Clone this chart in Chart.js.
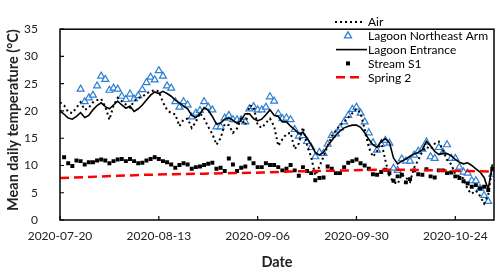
<!DOCTYPE html>
<html>
<head>
<meta charset="utf-8">
<script src="https://cdn.jsdelivr.net/npm/chart.js@4"></script>
<style>
html, body { margin: 0; padding: 0; background: #fff; }
</style>
</head>
<body>
<canvas id="chart" width="500" height="271"></canvas>
<script>
// days since 2020-07-20
const days = Array.from({ length: 106 }, (_, i) => i);
const dateTicks = ['2020-07-20', '2020-08-13', '2020-09-06', '2020-09-30', '2020-10-24'];
const seriesNames = ['Air', 'Lagoon Northeast Arm', 'Lagoon Entrance', 'Stream S1', 'Spring 2'];

const air = [21.6, 21.0, 19.8, 19.6, 20.6, 21.6, 20.2, 20.6, 21.6, 22.0,
  22.2, 20.8, 18.4, 21.0, 22.4, 21.8, 21.2, 20.6, 21.8, 22.4,
  22.6, 23.2, 23.6, 23.8, 23.6, 21.6, 20.2, 19.6, 19.4, 17.2,
  18.4, 18.6, 16.9, 18.0, 19.6, 18.6, 17.1, 15.8, 13.8, 15.0,
  17.6, 17.4, 16.0, 16.8, 18.6, 17.4, 21.0, 20.8, 17.4, 16.9,
  17.8, 18.6, 17.2, 13.6, 14.8, 15.8, 16.0, 13.0, 14.0, 17.0,
  13.8, 11.5, 8.2, 9.8, 11.6, 13.6, 15.4, 16.4, 17.4, 18.0,
  18.8, 19.6, 20.4, 19.6, 16.6, 13.3, 11.6, 12.6, 14.4, 11.0,
  8.0, 7.0, 6.6, 8.4, 7.8, 7.0, 9.6, 11.0, 12.6, 13.4,
  13.0, 14.0, 14.4, 12.8, 11.0, 10.2, 8.4, 8.0, 7.6, 5.6,
  4.8, 5.4, 4.4, 3.0, 4.6, 9.8];

const lagoonNE = [null, null, null, null, null, 24.0, 21.7, 22.4, 22.9, 24.6,
  26.4, 25.8, 23.8, 24.2, 24.0, 22.7, 22.1, 23.1, 22.2, 22.8,
  23.9, 25.2, 26.2, 25.7, 27.4, 26.4, 24.6, 24.2, 21.7, 20.7,
  21.7, 21.1, 18.9, 19.6, 20.1, 21.7, 20.7, 20.2, 17.1, 17.1,
  18.7, 19.2, 18.4, 18.4, 18.4, 18.0, 20.4, 20.8, 20.2, 20.2,
  20.7, 22.6, 21.8, 19.5, 18.6, 18.7, 18.4, 16.6, 15.4, 15.5,
  14.4, 13.3, 11.6, 12.4, 12.2, 13.9, 15.5, 15.8, 16.9, 18.0,
  19.2, 20.3, 20.7, 19.6, 18.0, 16.0, 14.2, 12.8, 13.9, 14.6,
  14.1, 9.5, 9.1, 11.2, 10.8, 10.8, 11.9, 12.6, 13.0, 14.3,
  11.6, 11.3, 13.3, 12.4, 13.8, 11.3, 11.3, 9.7, 8.8, 8.6,
  7.2, 7.2, 5.8, 4.5, 3.4, 8.4];

const lagoonEntrance = [20.0, 19.4, 18.7, 18.5, 19.0, 19.7, 18.8, 19.2, 20.2, 21.0,
  21.5, 20.8, 20.4, 21.1, 21.8, 21.1, 20.5, 20.9, 19.9, 20.4,
  21.1, 22.0, 22.9, 23.5, 23.2, 23.6, 23.2, 22.7, 22.0, 21.5,
  20.9, 20.4, 19.2, 18.8, 19.5, 20.6, 20.1, 19.0, 17.6, 17.8,
  18.5, 18.7, 18.3, 17.7, 18.3, 19.5, 19.5, 18.6, 18.2, 18.5,
  19.3, 20.2, 19.2, 19.0, 18.0, 18.0, 17.2, 16.6, 15.8, 16.1,
  15.0, 13.8, 12.4, 11.9, 12.4, 13.6, 14.6, 15.6, 16.3, 16.9,
  17.2, 17.4, 17.4, 17.0, 16.0, 14.8, 13.8, 13.3, 14.4, 14.9,
  14.2, 11.4, 10.3, 10.8, 11.2, 11.7, 12.1, 12.4, 12.9, 14.4,
  13.6, 12.6, 12.0, 12.3, 12.2, 11.8, 11.1, 10.6, 10.3, 10.5,
  10.0, 9.4, 8.8, 7.8, 5.6, 10.2];

const streamS1 = [null, 11.5, 10.4, 9.9, 10.9, 10.8, 10.2, 10.6, 10.6, 10.9,
  11.1, 10.9, 10.4, 10.8, 11.1, 11.2, 10.8, 11.2, 10.8, 10.4,
  10.5, 10.9, 11.2, 11.5, 11.2, 10.8, 10.6, 10.2, 9.6, 10.1,
  10.4, 10.2, 9.4, 9.7, 9.8, 10.1, 10.3, 10.5, 9.4, 9.6,
  9.0, 11.3, 10.2, 9.0, 9.6, 9.8, 11.3, 10.4, 9.7, 9.7,
  10.4, 10.1, 10.1, 9.7, 9.1, 9.4, 10.1, 9.1, 8.1, 9.7,
  9.0, 8.6, 7.3, 7.7, 7.8, 9.8, 9.4, 8.6, 8.6, 9.7,
  10.5, 10.8, 11.1, 10.4, 10.0, 9.4, 8.4, 8.3, 8.8, 9.2,
  8.6, 7.2, 8.0, 8.3, 6.9, 7.5, 9.1, 8.4, 8.3, 9.3,
  8.0, 7.8, 9.1, 9.1, 8.6, 8.7, 8.0, 7.7, 7.1, 6.7,
  6.1, 6.4, 5.8, 6.1, 5.5, 9.4];

const springDays = [0, 7, 14, 21, 28, 35, 42, 49, 56, 63, 70, 77, 84, 91, 98, 105];
const spring2 = [7.7, 7.9, 8.1, 8.3, 8.4, 8.5, 8.6, 8.7, 8.9, 9.0, 9.1, 9.2, 9.2, 9.1, 9.0, 8.9];

const FONT = 'Lato, "Open Sans", sans-serif';
const BLUE = '#2e7fd2';

// frame around the plot, with inward tick marks
const framePlugin = {
  id: 'frame',
  afterDatasetsDraw(chart) {
    const { ctx, chartArea: a, scales } = chart;
    ctx.save();
    ctx.strokeStyle = '#000';
    ctx.lineWidth = 1.5;
    ctx.strokeRect(a.left, a.top, a.right - a.left, a.bottom - a.top);
    ctx.lineWidth = 1.2;
    ctx.beginPath();
    scales.x.ticks.forEach(t => {
      const px = scales.x.getPixelForValue(t.value);
      ctx.moveTo(px, a.bottom);
      ctx.lineTo(px, a.bottom - 4);
    });
    scales.y.ticks.forEach(t => {
      const py = scales.y.getPixelForValue(t.value);
      ctx.moveTo(a.left, py);
      ctx.lineTo(a.left + 4, py);
    });
    ctx.stroke();
    ctx.restore();
  }
};

// legend drawn inside the plot, top right
const legendPlugin = {
  id: 'insideLegend',
  afterDraw(chart) {
    const ctx = chart.ctx;
    const rows = [22, 35.8, 49.6, 63.4, 77.2];
    const tx = 368, cx = 348;
    ctx.save();
    ctx.font = '12px ' + FONT;
    ctx.fillStyle = '#000';
    ctx.textBaseline = 'middle';
    seriesNames.forEach((n, i) => ctx.fillText(n, tx, rows[i] + 0.5));

    // Air
    ctx.strokeStyle = '#000';
    ctx.lineWidth = 2;
    ctx.setLineDash([2, 3]);
    ctx.beginPath();
    ctx.moveTo(335, rows[0]); ctx.lineTo(363, rows[0]);
    ctx.stroke();
    ctx.setLineDash([]);

    // Lagoon Northeast Arm
    const r = 4;
    ctx.strokeStyle = BLUE;
    ctx.fillStyle = '#fff';
    ctx.lineWidth = 1.3;
    ctx.beginPath();
    ctx.moveTo(cx, rows[1] - r);
    ctx.lineTo(cx + r * 0.87, rows[1] + r * 0.5);
    ctx.lineTo(cx - r * 0.87, rows[1] + r * 0.5);
    ctx.closePath();
    ctx.fill(); ctx.stroke();

    // Lagoon Entrance
    ctx.strokeStyle = '#000';
    ctx.lineWidth = 1.6;
    ctx.beginPath();
    ctx.moveTo(336, rows[2]); ctx.lineTo(367, rows[2]);
    ctx.stroke();

    // Stream S1
    ctx.fillStyle = '#000';
    ctx.fillRect(cx - 2, rows[3] - 2, 4, 4);

    // Spring 2
    ctx.strokeStyle = '#ff0000';
    ctx.lineWidth = 2.5;
    ctx.setLineDash([9, 5]);
    ctx.beginPath();
    ctx.moveTo(336, rows[4]); ctx.lineTo(363, rows[4]);
    ctx.stroke();
    ctx.restore();
  }
};

new Chart(document.getElementById('chart').getContext('2d'), {
  type: 'line',
  data: {
    labels: days,
    datasets: [
      {
        label: seriesNames[0],
        data: air,
        borderColor: '#000',
        borderWidth: 2,
        borderDash: [2, 3],
        pointRadius: 0,
        fill: false,
        order: 4
      },
      {
        label: seriesNames[1],
        data: lagoonNE,
        showLine: false,
        pointStyle: 'triangle',
        pointRadius: 4,
        pointBorderWidth: 1.2,
        pointBorderColor: BLUE,
        pointBackgroundColor: '#fff',
        borderColor: BLUE,
        order: 5
      },
      {
        label: seriesNames[2],
        data: lagoonEntrance,
        borderColor: '#000',
        borderWidth: 1.6,
        pointRadius: 0,
        fill: false,
        order: 3
      },
      {
        label: seriesNames[3],
        data: streamS1,
        showLine: false,
        pointStyle: 'rect',
        pointRadius: 2.8,
        pointBorderWidth: 0,
        pointBackgroundColor: '#000',
        borderColor: '#000',
        order: 2
      },
      {
        label: seriesNames[4],
        data: springDays.map((d, i) => ({ x: d, y: spring2[i] })),
        borderColor: '#ff0000',
        borderWidth: 2.5,
        borderDash: [9, 5],
        pointRadius: 0,
        fill: false,
        order: 1
      }
    ]
  },
  options: {
    responsive: false,
    animation: false,
    spanGaps: false,
    layout: { padding: { top: 9, right: 6, left: 0, bottom: 0 } },
    plugins: {
      legend: { display: false },
      tooltip: { enabled: false }
    },
    scales: {
      x: {
        type: 'linear',
        min: 0,
        max: 105.4,
        border: { display: false },
        grid: { display: false, drawTicks: false },
        afterBuildTicks: s => { s.ticks = dateTicks.map((_, i) => ({ value: i * 24 })); },
        afterFit: s => { s.height = 51; },
        ticks: {
          autoSkip: false,
          padding: 9,
          maxRotation: 0,
          color: '#222',
          font: { family: FONT, size: 12 },
          callback: v => dateTicks[Math.round(v / 24)]
        },
        title: {
          display: true,
          text: 'Date',
          color: '#222',
          padding: { top: 4, bottom: 0 },
          font: { family: FONT, size: 14.5, weight: 'bold' }
        }
      },
      y: {
        min: 0,
        max: 35,
        border: { display: false },
        grid: { display: false, drawTicks: false },
        afterFit: s => { s.width = 60; },
        ticks: {
          stepSize: 5,
          padding: 22,
          color: '#222',
          font: { family: FONT, size: 12 }
        },
        title: {
          display: true,
          text: 'Mean daily temperature (°C)',
          align: 'end',
          color: '#222',
          padding: { top: 5, bottom: 0 },
          font: { family: FONT, size: 14.5, weight: 'bold' }
        }
      }
    }
  },
  plugins: [framePlugin, legendPlugin]
});
</script>
</body>
</html>
